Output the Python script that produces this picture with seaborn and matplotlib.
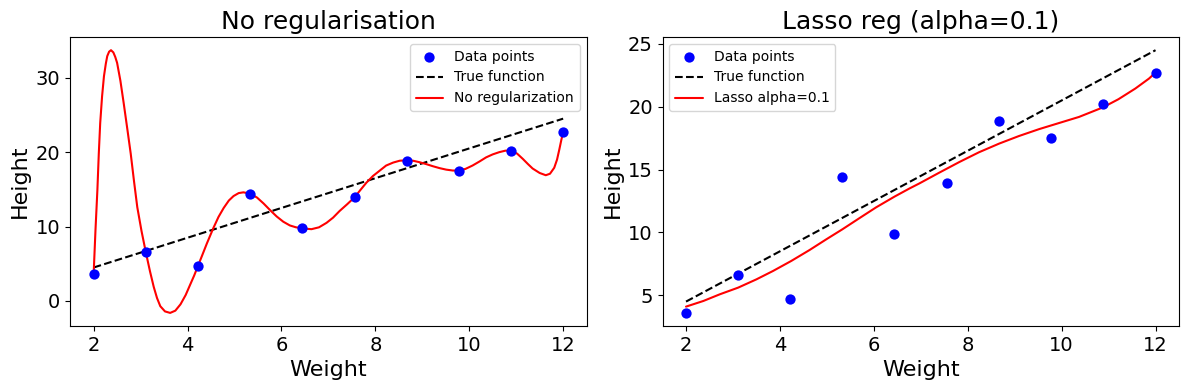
import numpy as np
import pandas as pd
import matplotlib
matplotlib.use("Agg")
import matplotlib.pyplot as plt
import seaborn as sns

# Data points
weight = [2.00, 3.11, 4.22, 5.33, 6.44, 7.56, 8.67, 9.78, 10.89, 12.00]
height = [3.60, 6.60, 4.67, 14.43, 9.85, 13.95, 18.85, 17.53, 20.20, 22.71]

# True function (endpoints of the dashed line)
true_x = [2.0, 12.0]
true_y = [4.5, 24.5]

# Unregularised fit, values
noreg_x = [2.00, 2.04, 2.08, 2.11, 2.14, 2.18, 2.22, 2.26, 2.29, 2.33, 2.37, 2.42,
           2.46, 2.50, 2.57, 2.64, 2.72, 2.79, 2.86, 2.93, 3.02, 3.11, 3.20, 3.28,
           3.35, 3.42, 3.52, 3.63, 3.74, 3.85, 3.96, 4.06, 4.14, 4.22, 4.31, 4.41,
           4.55, 4.66, 4.77, 4.88, 4.98, 5.09, 5.19, 5.33, 5.48, 5.62, 5.76, 5.90,
           6.04, 6.18, 6.31, 6.44, 6.54, 6.64, 6.80, 6.96, 7.10, 7.24, 7.40, 7.56,
           7.68, 7.81, 7.95, 8.09, 8.23, 8.38, 8.52, 8.67, 8.80, 8.94, 9.08, 9.23,
           9.37, 9.51, 9.65, 9.78, 9.92, 10.07, 10.22, 10.36, 10.50, 10.64, 10.77,
           10.89, 11.02, 11.14, 11.25, 11.35, 11.50, 11.63, 11.72, 11.81, 11.87,
           11.92, 11.96, 12.00]
noreg_y = [3.6, 9.6, 14.9, 19.8, 23.9, 27.5, 30.2, 31.9, 32.9, 33.5, 33.7, 33.4,
           32.8, 32.0, 29.6, 26.6, 23.0, 19.8, 16.1, 12.6, 9.4, 6.6, 4.0, 1.9,
           0.4, -0.7, -1.4, -1.6, -1.3, -0.45, 0.8, 2.25, 3.4, 4.67, 6.1, 7.7,
           9.8, 11.3, 12.5, 13.5, 14.1, 14.5, 14.6, 14.43, 13.9, 13.1, 12.2, 11.35,
           10.65, 10.15, 9.9, 9.8, 9.7, 9.65, 9.9, 10.5, 11.2, 12.1, 13.0, 13.95,
           14.9, 15.9, 16.8, 17.5, 18.2, 18.6, 18.85, 18.9, 18.85, 18.65, 18.4, 18.1,
           17.85, 17.65, 17.53, 17.53, 17.75, 18.2, 18.75, 19.3, 19.7, 20.0, 20.2,
           20.2, 19.8, 19.1, 18.4, 17.8, 17.2, 16.9, 17.1, 17.9, 19.0, 20.4, 21.6,
           22.71]

# Lasso fit (alpha = 0.1)
lasso_x = [2.00, 2.37, 2.72, 3.11, 3.50, 3.85, 4.24, 4.63, 4.99, 5.33, 5.69,
           6.05, 6.44, 6.76, 6.97, 7.39, 7.82, 8.24, 8.67, 9.09, 9.52, 9.94,
           10.37, 10.88, 11.21, 11.57, 11.86, 12.00]
lasso_y = [4.10, 4.55, 5.08, 5.61, 6.27, 6.93, 7.73, 8.60, 9.46, 10.25, 11.13,
           12.00, 12.85, 13.5, 13.9, 14.75, 15.6, 16.38, 17.07, 17.67, 18.22, 18.7,
           19.19, 19.95, 20.6, 21.45, 22.24, 22.72]

points = pd.DataFrame({"Weight": weight, "Height": height})
truth = pd.DataFrame({"Weight": true_x, "Height": true_y})
noreg = pd.DataFrame({"Weight": noreg_x, "Height": noreg_y})
lasso = pd.DataFrame({"Weight": lasso_x, "Height": lasso_y})

sns.set_style("ticks")
plt.rcParams["font.family"] = ["DejaVu Sans"]
plt.rcParams.update({
    "text.color": "black",
    "axes.labelcolor": "black",
    "xtick.color": "black",
    "ytick.color": "black",
    "axes.edgecolor": "black",
})

fig, axes = plt.subplots(1, 2, figsize=(11.89, 3.9), dpi=100)

panels = [
    (axes[0], noreg, "No regularization", "No regularisation", "upper right"),
    (axes[1], lasso, "Lasso alpha=0.1", "Lasso reg (alpha=0.1)", "upper left"),
]

for ax, fit, fit_label, title, loc in panels:
    sns.scatterplot(data=points, x="Weight", y="Height", ax=ax, color="blue",
                    s=55, linewidth=0, label="Data points", zorder=3)
    sns.lineplot(data=truth, x="Weight", y="Height", ax=ax, color="black",
                 linestyle="--", linewidth=1.5, label="True function", sort=False)
    sns.lineplot(data=fit, x="Weight", y="Height", ax=ax, color="red",
                 linewidth=1.5, label=fit_label, sort=False)
    ax.set_title(title, fontsize=18, color="black")
    ax.set_xlabel("Weight", fontsize=16, color="black")
    ax.set_ylabel("Height", fontsize=16, color="black")
    ax.tick_params(labelsize=14, colors="black")
    ax.set_xticks([2, 4, 6, 8, 10, 12])
    ax.legend(loc=loc, fontsize=10)
    for s in ax.spines.values():
        s.set_visible(True)
        s.set_color("black")

axes[1].set_yticks([5, 10, 15, 20, 25])
axes[0].set_yticks([0, 10, 20, 30])

fig.subplots_adjust(left=0.059, right=0.9916, top=0.905, bottom=0.164, wspace=0.147)
plt.savefig("out.png", dpi=100)
